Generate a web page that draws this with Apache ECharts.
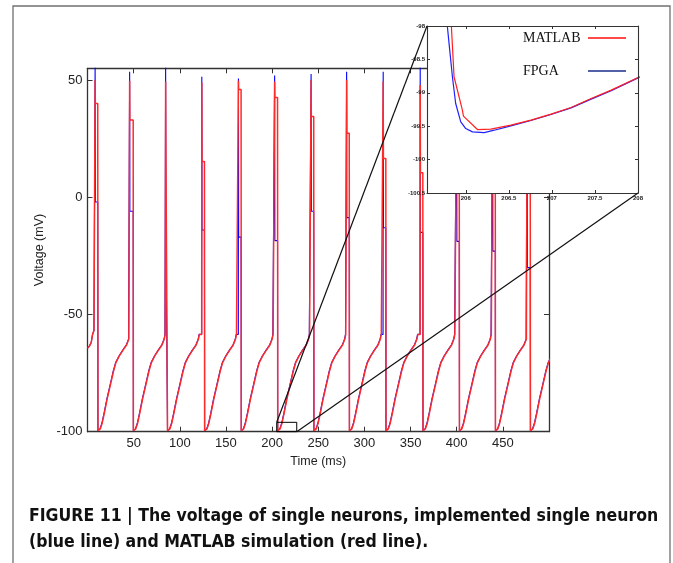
<!DOCTYPE html>
<html>
<head>
<meta charset="utf-8">
<script src="https://cdn.jsdelivr.net/npm/echarts@6/dist/echarts.min.js"></script>
<style>
html,body{margin:0;padding:0;background:#fff;}
#chart{width:673px;height:563px;}
</style>
</head>
<body>
<div id="chart"></div>
<script>
// ---- main trace data ----
const spikeTimes   = [8.1, 45.5, 84.5, 123.7, 163.4, 202.6, 242.1, 280.6, 320.2, 360.3, 399.8, 438.8, 476.2];
const spikeWidths  = [3.0, 4.0, 2.0, 3.0, 3.0, 3.3, 3.0, 3.0, 3.0, 3.0, 3.0, 3.0, 3.5];
const matlabPeaks  = [50, 49.7, 49.4, 48.9, 49.8, 49.4, 50, 50, 49.4, 47.9, 49, 49, 49];
const matlabBreaks = [40, 33, 24.5, 15.2, 46, 42.5, 34.4, 27.3, 16.5, 10.4, 10, 8, 5];
const fpgaPeaks    = [56, 53.5, 56, 51.4, 50.7, 51.9, 52.6, 53.5, 53.5, 56, 52, 52, 52];
const fpgaBreaks   = [-2, -6, -10, -14, -17, -18.5, -6, -8.7, -13, -15, -18.8, -23, -30];
const startTimes   = [0, 2, 4, 5.5, 7];
const startVolts   = [-64.4, -63.5, -62, -58.5, -56.8];
const recoveryOffsets = [0, 1.0, 2.5, 4.5, 7.0, 10.0, 13.5, 17.0, 19.5, 23.0, 27.0, 31.0, 33.5, 34.5];
const recoveryVolts   = [-99.6, -99.5, -98.8, -96.5, -92.0, -86.0, -80.0, -74.0, -70.5, -67.8, -65.3, -63.0, -60.5, -58.5];
const fpgaShift = -0.3;

// main axis ticks
const xTicks = [50, 100, 150, 200, 250, 300, 350, 400, 450];
const yTicks = [-100, -50, 0, 50];

// zoom box on main plot
const boxT = [205, 226.7];
const boxV = [-100, -96];

// ---- inset data ----
const insetMatlabT = [205.833, 205.864, 205.961, 205.973, 206.136, 206.291, 206.524, 206.757, 206.990, 207.223, 207.456, 207.689, 208.019];
const insetMatlabV = [-98.0, -98.76, -99.26, -99.35, -99.55, -99.545, -99.485, -99.41, -99.32, -99.22, -99.085, -98.96, -98.76];
const insetFpgaT = [205.786, 205.806, 205.845, 205.883, 205.942, 206.0, 206.078, 206.214, 206.330, 206.524, 206.757, 206.990, 207.223, 207.456, 207.689, 208.019];
const insetFpgaV = [-98.0, -98.26, -98.76, -99.16, -99.435, -99.535, -99.585, -99.595, -99.56, -99.495, -99.415, -99.325, -99.225, -99.095, -98.97, -98.765];
const insetX = [205.55, 208];
const insetY = [-100.5, -98];

const caption = 'FIGURE 11 | The voltage of single neurons, implemented single neuron\n(blue line) and MATLAB simulation (red line).';

function buildTrace(peaks, breaks, shift) {
  const pts = startTimes.map((t, i) => [t, startVolts[i]]);
  spikeTimes.forEach((ts, i) => {
    const w = spikeWidths[i];
    pts.push([ts + 0.15, peaks[i]]);
    pts.push([ts + 0.4, breaks[i]]);
    pts.push([ts + w, breaks[i]]);
    const td = ts + w + 0.2;
    const next = i + 1 < spikeTimes.length ? spikeTimes[i + 1] : 520;
    let last = null;
    recoveryOffsets.forEach((o, k) => {
      const t = td + o + (o > 0 ? shift : 0);
      if (t < next) { pts.push([t, recoveryVolts[k]]); last = recoveryVolts[k]; }
    });
    if (i + 1 < spikeTimes.length) pts.push([next, last]);
  });
  return pts;
}

const matlabMain = buildTrace(matlabPeaks, matlabBreaks, 0);
const fpgaMain = buildTrace(fpgaPeaks, fpgaBreaks, fpgaShift);
const boxData = [[boxT[0], boxV[0]], [boxT[1], boxV[0]], [boxT[1], boxV[1]], [boxT[0], boxV[1]], [boxT[0], boxV[0]]];
const insetMatlab = insetMatlabT.map((t, i) => [t, insetMatlabV[i]]);
const insetFpga = insetFpgaT.map((t, i) => [t, insetFpgaV[i]]);

const AX = '#333';
const sans = 'Liberation Sans, Arial, sans-serif';
const serif = 'Liberation Serif, Times New Roman, serif';

const chart = echarts.init(document.getElementById('chart'), null, {renderer: 'canvas'});

const mainX = {
  type: 'value', min: 0, max: 500, interval: 50,
  axisLine: {onZero: false, lineStyle: {color: AX, width: 1.3}},
  axisTick: {inside: true, length: 5, lineStyle: {color: AX}},
  splitLine: {show: false}
};
const mainY = {
  type: 'value', min: -100, max: 55, interval: 50,
  axisLine: {show: true, onZero: false, lineStyle: {color: AX, width: 1.3}},
  axisTick: {show: true, inside: true, length: 5, lineStyle: {color: AX}},
  splitLine: {show: false}
};
const inX = {
  type: 'value', min: insetX[0], max: insetX[1], gridIndex: 1, z: 5,
  axisLine: {onZero: false, lineStyle: {color: AX, width: 1.1}},
  axisTick: {inside: true, length: 3, lineStyle: {color: AX}},
  splitLine: {show: false}
};
const inY = {
  type: 'value', min: insetY[0], max: insetY[1], interval: 0.5, gridIndex: 1, z: 5,
  axisLine: {show: true, onZero: false, lineStyle: {color: AX, width: 1.1}},
  axisTick: {show: true, inside: true, length: 3, lineStyle: {color: AX}},
  splitLine: {show: false}
};

const option = {
  animation: false,
  backgroundColor: '#fff',
  title: {
    text: caption, left: 29, top: 503, padding: 0,
    textStyle: {fontFamily: 'DejaVu Sans Condensed, Liberation Sans Narrow, sans-serif', fontWeight: 'bold', fontSize: 17.5, lineHeight: 26.5, color: '#111'}
  },
  legend: {
    data: [
      {name: 'MATLAB', icon: 'rect', itemStyle: {color: '#ff4a4a'}},
      {name: 'FPGA', icon: 'rect', itemStyle: {color: '#5262a8'}}
    ],
    orient: 'vertical', left: 518, top: 26, align: 'right',
    itemWidth: 38, itemHeight: 2, itemGap: 19, z: 8,
    selectedMode: false,
    formatter: n => '{t|' + n + '}',
    textStyle: {fontFamily: serif, fontSize: 14, color: '#111',
      rich: {t: {width: 60, align: 'left', fontFamily: serif, fontSize: 14, color: '#111'}}}
  },
  grid: [
    {left: 87.5, top: 68.3, width: 461.5, height: 363.4},
    {left: 427, top: 26, width: 211, height: 167}
  ],
  xAxis: [
    Object.assign({}, mainX, {
      position: 'bottom',
      axisLabel: {margin: 5, fontFamily: sans, fontSize: 13, color: '#222',
        formatter: v => (xTicks.indexOf(v) >= 0 ? String(v) : '')},
      name: 'Time (ms)', nameLocation: 'middle', nameGap: 23,
      nameTextStyle: {fontFamily: sans, fontSize: 12.5, color: '#222'}
    }),
    Object.assign({}, mainX, {position: 'top', axisLabel: {show: false}}),
    Object.assign({}, inX, {
      position: 'bottom',
      axisLabel: {margin: 2, fontFamily: sans, fontSize: 6, fontWeight: 'bold', color: '#222',
        formatter: v => (Math.abs(v * 2 - Math.round(v * 2)) < 1e-6 ? String(v) : '')}
    }),
    Object.assign({}, inX, {position: 'top', axisLabel: {show: false}})
  ],
  yAxis: [
    Object.assign({}, mainY, {
      position: 'left',
      axisLabel: {margin: 5, fontFamily: sans, fontSize: 13, color: '#222',
        formatter: v => (yTicks.indexOf(v) >= 0 ? String(v) : '')},
      name: 'Voltage (mV)', nameLocation: 'middle', nameGap: 41,
      nameTextStyle: {fontFamily: sans, fontSize: 12.5, color: '#222'}
    }),
    Object.assign({}, mainY, {position: 'right', axisLabel: {show: false}}),
    Object.assign({}, inY, {
      position: 'left',
      axisLabel: {margin: 2, fontFamily: sans, fontSize: 6, fontWeight: 'bold', color: '#222'}
    }),
    Object.assign({}, inY, {position: 'right', axisLabel: {show: false}})
  ],
  series: [
    {name: 'FPGA', type: 'line', xAxisIndex: 0, yAxisIndex: 0, data: fpgaMain, showSymbol: false, symbol: 'none',
      lineStyle: {color: '#0000ff', width: 1.1}, itemStyle: {color: '#0000ff'}, z: 2, silent: true},
    {name: 'MATLAB', type: 'line', xAxisIndex: 0, yAxisIndex: 0, data: matlabMain, showSymbol: false, symbol: 'none',
      lineStyle: {color: '#ff2a2a', width: 1.5}, itemStyle: {color: '#ff2a2a'}, z: 2, silent: true},
    {name: 'box', type: 'line', xAxisIndex: 0, yAxisIndex: 0, data: boxData, showSymbol: false, symbol: 'none',
      lineStyle: {color: '#000', width: 1}, z: 3, silent: true, clip: false},
    {name: 'FPGA', type: 'line', xAxisIndex: 2, yAxisIndex: 2, data: insetFpga, showSymbol: false, symbol: 'none',
      lineStyle: {color: '#2020ff', width: 1.2}, itemStyle: {color: '#2020ff'}, z: 4, silent: true},
    {name: 'MATLAB', type: 'line', xAxisIndex: 2, yAxisIndex: 2, data: insetMatlab, showSymbol: false, symbol: 'none',
      lineStyle: {color: '#ff2020', width: 1.2}, itemStyle: {color: '#ff2020'}, z: 4, silent: true}
  ]
};
chart.setOption(option);

const pTL = chart.convertToPixel({xAxisIndex: 0, yAxisIndex: 0}, [boxT[0], boxV[1]]);
const pBR = chart.convertToPixel({xAxisIndex: 0, yAxisIndex: 0}, [boxT[1], boxV[0]]);
const iTL = chart.convertToPixel({xAxisIndex: 2, yAxisIndex: 2}, [insetX[0], insetY[1]]);
const iBR = chart.convertToPixel({xAxisIndex: 2, yAxisIndex: 2}, [insetX[1], insetY[0]]);

chart.setOption({
  graphic: [
    {id: 'frame', type: 'rect', z: 1, silent: true,
      shape: {x: 13, y: 6, width: 657, height: 620},
      style: {fill: null, stroke: '#707070', lineWidth: 1.3}},
    {id: 'insetBg', type: 'rect', z: 3, silent: true,
      shape: {x: iTL[0], y: iTL[1], width: iBR[0] - iTL[0], height: iBR[1] - iTL[1]},
      style: {fill: '#fff'}},
    {id: 'conn1', type: 'line', z: 7, silent: true,
      shape: {x1: pTL[0], y1: pTL[1], x2: iTL[0], y2: iTL[1]},
      style: {stroke: '#111', lineWidth: 1.2}},
    {id: 'conn2', type: 'line', z: 7, silent: true,
      shape: {x1: pBR[0], y1: pBR[1], x2: iBR[0], y2: iBR[1]},
      style: {stroke: '#111', lineWidth: 1.2}}
  ]
});
</script>
</body>
</html>
